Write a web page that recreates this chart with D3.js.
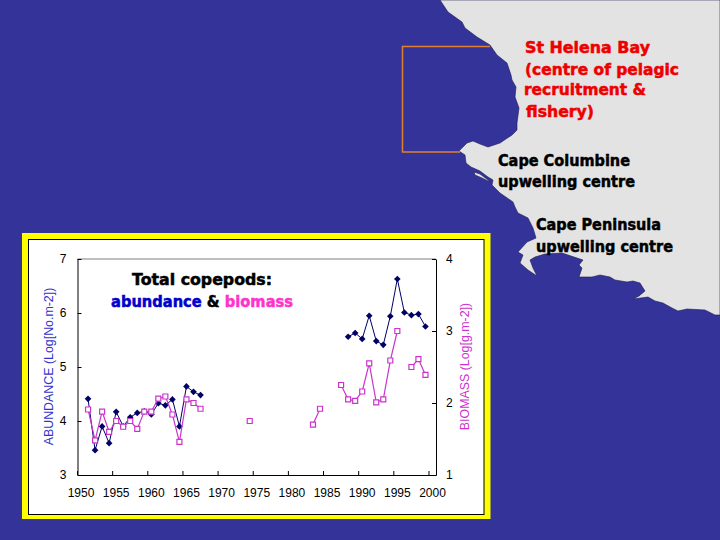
<!DOCTYPE html>
<html lang="en">
<head>
<meta charset="UTF-8" />
<title>Total copepods: abundance and biomass</title>
<style>
  html, body { margin: 0; padding: 0; background: #333399; }
  svg { display: block; }
  .tick text { font-family: "Liberation Sans", Arial, sans-serif; font-size: 12px; fill: #000; }
  .label { font-family: "DejaVu Sans", sans-serif; font-weight: bold; font-size: 15px; stroke-width: 0.5px; }
  .axis-title { font-family: "Liberation Sans", Arial, sans-serif; font-size: 12.4px; }
</style>
</head>
<body>
<div id="app"></div>
<script src="https://cdn.jsdelivr.net/npm/d3@7"></script>
<script>
// DATA
const years = d3.range(1950, 2001);
const xTickLabels = [1950, 1955, 1960, 1965, 1970, 1975, 1980, 1985, 1990, 1995, 2000];
const abundanceTicks = [3, 4, 5, 6, 7];
const biomassTicks = [1, 2, 3, 4];

const abundanceYears = [1951, 1952, 1953, 1954, 1955, 1956, 1957, 1958, 1959, 1960, 1961, 1962, 1963, 1964, 1965, 1966, 1967,
  1988, 1989, 1990, 1991, 1992, 1993, 1994, 1995, 1996, 1997, 1998, 1999];
const abundance = [4.41, 3.46, 3.90, 3.59, 4.17, 3.90, 4.07, 4.15, 4.18, 4.12, 4.33, 4.29, 4.40, 3.90, 4.64, 4.54, 4.48,
  5.56, 5.63, 5.52, 5.95, 5.48, 5.41, 5.94, 6.63, 6.01, 5.96, 5.98, 5.75];

const biomassYears = [1951, 1952, 1953, 1954, 1955, 1956, 1957, 1958, 1959, 1960, 1961, 1962, 1963, 1964, 1965, 1966, 1967,
  1974, 1983, 1984, 1987, 1988, 1989, 1990, 1991, 1992, 1993, 1994, 1995, 1997, 1998, 1999];
const biomass = [1.91, 1.48, 1.88, 1.60, 1.75, 1.67, 1.75, 1.64, 1.88, 1.88, 2.06, 2.09, 1.84, 1.46, 2.05, 2.00, 1.92,
  1.75, 1.70, 1.92, 2.25, 2.05, 2.03, 2.16, 2.55, 2.01, 2.05, 2.59, 3.00, 2.50, 2.61, 2.39];

// outline of the coast, in page pixels
const coast = [[440,0],[448,12],[462,22],[465,28],[477,37],[490,45],[497,55],[507,63],[511,75],[512,80],[516,87],[515,97],[519,108],[517,123],
  [517,130],[512,135],[500,143],[488,147],[480,144],[473,141],[467,143],[459,151],[465,155],[466,163],[471,167],[480,171],[488,177],[493,180],
  [492,185],[500,193],[513,202],[515,207],[518,213],[528,218],[533,228],[536,238],[527,242],[518,252],[523,255],[520,263],[528,270],[537,276],
  [533,268],[530,260],[535,257],[545,254],[562,253],[583,260],[579,265],[582,268],[579,277],[592,277],[600,275],[610,277],[615,280],[627,282],
  [633,281],[640,283],[645,291],[639,296],[633,299],[648,297],[655,301],[663,303],[672,308],[678,311],[687,309],[705,310],[715,315],[720,315],[720,0]];
const islet = [[474,172],[480,174],[488,180],[490,182],[482,178],[475,175]];
const studyBox = [[490,46.5],[402.5,46.5],[402.5,152],[460,152]];

const labels = [
  { text: "St Helena Bay", x: 525, y: 53, w: 125, fill: "#EE0000" },
  { text: "(centre of pelagic", x: 525, y: 75, w: 154, fill: "#EE0000" },
  { text: "recruitment &", x: 524, y: 95, w: 122, fill: "#EE0000" },
  { text: "fishery)", x: 526, y: 117, w: 68, fill: "#EE0000" },
  { text: "Cape Columbine", x: 498, y: 166, w: 132, fill: "#000" },
  { text: "upwelling centre", x: 498, y: 187, w: 137, fill: "#000" },
  { text: "Cape Peninsula", x: 536, y: 230, w: 125, fill: "#000" },
  { text: "upwelling centre", x: 536, y: 252, w: 137, fill: "#000" }
];

// SVG
const w = 720;
const h = 540;
const plot = { left: 77.5, right: 436, top: 259, bottom: 475 };

const svg = d3.select("#app").append("svg")
  .attr("width", w)
  .attr("height", h);

// background map
svg.append("rect").attr("width", w).attr("height", h).attr("fill", "#333399");
[coast, islet].forEach(shape => {
  svg.append("path")
    .attr("d", d3.line()(shape) + "Z")
    .attr("fill", "#E3E3E3")
    .attr("stroke", "#1c1c50")
    .attr("stroke-width", 0.6);
});
svg.append("path")
  .attr("d", d3.line()(studyBox))
  .attr("fill", "none")
  .attr("stroke", "#E08030")
  .attr("stroke-width", 1.5);

svg.selectAll("text.label")
  .data(labels)
  .enter()
  .append("text")
  .attr("class", "label")
  .attr("x", d => d.x)
  .attr("y", d => d.y)
  .attr("fill", d => d.fill)
  .attr("stroke", d => d.fill)
  .attr("textLength", d => d.w)
  .attr("lengthAdjust", "spacingAndGlyphs")
  .text(d => d.text);

// chart frame
svg.append("rect")
  .attr("x", 22).attr("y", 233).attr("width", 468.5).attr("height", 286)
  .attr("fill", "#FFFF00");
svg.append("rect")
  .attr("x", 28.5).attr("y", 239.5).attr("width", 455.5).attr("height", 275)
  .attr("fill", "#fff")
  .attr("stroke", "#000");

// Scales
const xScale = d3.scaleBand().domain(years).range([plot.left, plot.right]);
const yAbundance = d3.scaleLinear().domain([3, 7]).range([plot.bottom, plot.top]);
const yBiomass = d3.scaleLinear().domain([1, 4]).range([plot.bottom, plot.top]);
const cx = year => xScale(year) + xScale.bandwidth() / 2;

svg.append("line")
  .attr("x1", plot.left).attr("x2", plot.right)
  .attr("y1", plot.top).attr("y2", plot.top)
  .attr("stroke", "#808080");

// AXIS
const xAxis = svg.append("g")
  .attr("transform", "translate(0," + plot.bottom + ")")
  .call(d3.axisBottom(xScale).tickValues(xTickLabels).tickSizeOuter(0).tickSizeInner(-4).tickPadding(13));
// tick marks sit between the years, the labels on the year
xAxis.selectAll(".tick line").attr("transform", "translate(" + (-xScale.bandwidth() / 2) + ",0)");

svg.append("g")
  .attr("transform", "translate(" + plot.left + ",0)")
  .call(d3.axisLeft(yAbundance).tickValues(abundanceTicks).tickFormat(d3.format("d")).tickSizeOuter(0).tickSizeInner(-4).tickPadding(11));

svg.append("g")
  .attr("transform", "translate(" + plot.right + ",0)")
  .call(d3.axisRight(yBiomass).tickValues(biomassTicks).tickFormat(d3.format("d")).tickSizeOuter(0).tickSizeInner(-4).tickPadding(10));

svg.selectAll(".domain").attr("stroke", "#000");

svg.append("text")
  .attr("class", "axis-title")
  .attr("transform", "translate(53,366.5) rotate(-90)")
  .attr("text-anchor", "middle")
  .attr("fill", "#3333CC")
  .text("ABUNDANCE (Log[No.m-2])");

svg.append("text")
  .attr("class", "axis-title")
  .attr("transform", "translate(469,366.5) rotate(-90)")
  .attr("text-anchor", "middle")
  .attr("fill", "#CC33CC")
  .text("BIOMASS (Log[g.m-2])");

// Series: a break in the years breaks the line
function drawSeries(xs, ys, yScale, color, symbol, size, rotate, markerFill, strokeWidth, lineWidth) {
  const rows = xs.map((year, i) => ({ year, value: ys[i] }));
  const byYear = new Map(rows.map(d => [d.year, d.value]));
  const line = d3.line()
    .defined(d => byYear.has(d))
    .x(d => cx(d))
    .y(d => yScale(byYear.get(d)));
  svg.append("path")
    .attr("d", line(years))
    .attr("fill", "none")
    .attr("stroke", color)
    .attr("stroke-width", lineWidth);
  svg.append("g").selectAll("path")
    .data(rows)
    .enter()
    .append("path")
    .attr("transform", d => "translate(" + cx(d.year) + "," + yScale(d.value) + ") rotate(" + rotate + ")")
    .attr("d", d3.symbol().type(symbol).size(size))
    .attr("fill", markerFill)
    .attr("stroke", color)
    .attr("stroke-width", strokeWidth);
}

drawSeries(abundanceYears, abundance, yAbundance, "#000066", d3.symbolSquare, 22, 45, "#000066", 0, 1);
drawSeries(biomassYears, biomass, yBiomass, "#CC33CC", d3.symbolSquare, 25, 0, "#fff", 1.2, 1.2);

// chart title
const title = svg.append("g").attr("class", "label");
title.append("text")
  .attr("x", 132).attr("y", 285)
  .attr("textLength", 140).attr("lengthAdjust", "spacingAndGlyphs")
  .attr("fill", "#000").attr("stroke", "#000")
  .text("Total copepods:");
const sub = title.append("text")
  .attr("x", 111).attr("y", 307)
  .attr("textLength", 182).attr("lengthAdjust", "spacingAndGlyphs");
sub.append("tspan").attr("fill", "#0000CC").attr("stroke", "#0000CC").text("abundance");
sub.append("tspan").attr("fill", "#000").attr("stroke", "#000").text(" & ");
sub.append("tspan").attr("fill", "#FF33CC").attr("stroke", "#FF33CC").text("biomass");
</script>
</body>
</html>
